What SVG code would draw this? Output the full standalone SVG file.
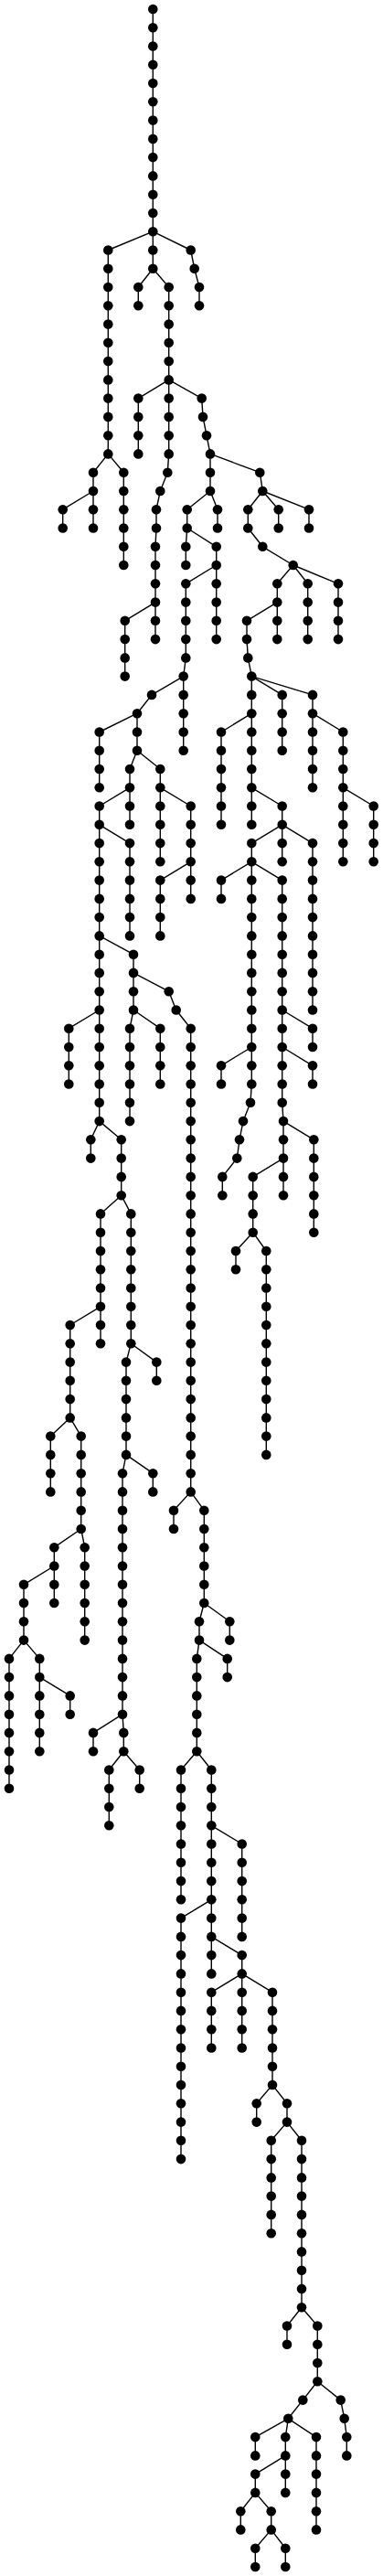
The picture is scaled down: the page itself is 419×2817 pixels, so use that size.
<svg xmlns="http://www.w3.org/2000/svg" width="419" height="2817" viewBox="0 0 419 2817">
<style>
.e{fill:none;stroke:#000;stroke-width:1.4;stroke-linejoin:round}
circle{fill:#000}
</style>
<rect width="419" height="2817" fill="#fff"/>
<g id="connectors" class="e">
<path d="M167.3,10V253.2"/>
<path d="M167.3,253.2L118.3,273.5V496.4"/>
<path d="M167.3,253.2V293.8"/>
<path d="M167.3,253.2L208.7,273.5L212.7,293.8L218,314V334.3"/>
<path d="M167.3,293.8L151.3,314V334.3"/>
<path d="M167.3,293.8L184.7,314V415.4"/>
<path d="M184.7,415.4L151.3,435.6V496.4"/>
<path d="M184.7,415.4V496.4L183.3,516.7L175.3,537L171,557.2V577.5L170,597.8V658.6"/>
<path d="M184.7,415.4L220.7,435.6L222,455.9L226,476.2L230,496.4"/>
<path d="M118.3,496.4L102,516.7V537"/>
<path d="M118.3,496.4L135.3,516.7V618"/>
<path d="M102,537L68.7,557.2V577.5"/>
<path d="M102,537V577.5"/>
<path d="M230,496.4V537"/>
<path d="M230,496.4L284.3,516.7L287.3,537"/>
<path d="M230,537L204.7,557.2V577.5"/>
<path d="M230,537L238,557.2V577.5"/>
<path d="M204.7,577.5L203.3,597.8V618"/>
<path d="M204.7,577.5L236.7,597.8V618"/>
<path d="M236.7,618L203.3,638.3V719.4L200.7,739.6"/>
<path d="M236.7,618V699.1"/>
<path d="M287.3,537L271.3,557.2V577.5L287.3,597.8L320.7,618"/>
<path d="M287.3,537L304.7,557.2V577.5"/>
<path d="M287.3,537L338,557.2V577.5"/>
<path d="M320.7,618L303.3,638.3V658.6"/>
<path d="M320.7,618L336.7,638.3V699.1"/>
<path d="M320.7,618L370,638.3V699.1"/>
<path d="M303.3,658.6L270,678.8V699.1L271.3,719.4L275.3,739.6"/>
<path d="M303.3,658.6V699.1"/>
<path d="M170,658.6L136.7,678.8V739.6"/>
<path d="M170,658.6V699.1"/>
<path d="M200.7,739.6L166,759.9L150,780.2"/>
<path d="M200.7,739.6V820.7"/>
<path d="M275.3,739.6V780.2"/>
<path d="M275.3,739.6L308.7,759.9V820.7"/>
<path d="M275.3,739.6L342,759.9V780.2"/>
<path d="M150,780.2L108.7,800.5V861.3"/>
<path d="M150,780.2V820.7"/>
<path d="M150,820.7L142,841V861.3"/>
<path d="M150,820.7L175.3,841V861.3"/>
<path d="M142,861.3L108.7,881.5V901.8"/>
<path d="M142,861.3V901.8"/>
<path d="M108.7,901.8V1023.4"/>
<path d="M108.7,901.8L142,922.1V1023.4"/>
<path d="M175.3,861.3V942.3"/>
<path d="M175.3,861.3L208.7,881.5V942.3"/>
<path d="M208.7,942.3L175.3,962.6V1023.4"/>
<path d="M208.7,942.3V982.9"/>
<path d="M275.3,780.2L242,800.5V901.8"/>
<path d="M275.3,780.2V861.3"/>
<path d="M275.3,861.3V901.8"/>
<path d="M275.3,861.3L308.7,881.5V901.8"/>
<path d="M308.7,901.8L275.3,922.1V942.3"/>
<path d="M308.7,901.8V942.3"/>
<path d="M308.7,901.8L342,922.1V1104.5"/>
<path d="M275.3,942.3L242,962.6V982.9"/>
<path d="M275.3,942.3V1145"/>
<path d="M275.3,942.3L308.7,962.6V1104.5"/>
<path d="M342,780.2V861.3"/>
<path d="M342,780.2L375.3,800.5V861.3"/>
<path d="M375.3,861.3V942.3"/>
<path d="M375.3,861.3L408.7,881.5V942.3"/>
<path d="M108.7,1023.4V1104.5"/>
<path d="M108.7,1023.4L146,1043.7V1063.9"/>
<path d="M146,1063.9V1104.5"/>
<path d="M146,1063.9L184.7,1084.2L192.7,1104.5L208.7,1124.7V1631.4"/>
<path d="M108.7,1104.5L75.3,1124.7V1185.5"/>
<path d="M108.7,1104.5V1226.1"/>
<path d="M146,1104.5L142,1124.7V1226.1"/>
<path d="M146,1104.5L175.3,1124.7V1185.5"/>
<path d="M308.7,1104.5V1145"/>
<path d="M308.7,1104.5L342,1124.7V1145"/>
<path d="M275.3,1145L242,1165.3V1185.5"/>
<path d="M275.3,1145V1185.5L274,1205.8L266,1226.1L262,1246.3L259.3,1266.6L243.3,1286.9V1307.2"/>
<path d="M308.7,1145V1205.8L310,1226.1"/>
<path d="M308.7,1145L342,1165.3V1185.5"/>
<path d="M310,1226.1V1266.6"/>
<path d="M310,1226.1L343.3,1246.3V1347.7"/>
<path d="M310,1266.6L276.7,1286.9V1347.7"/>
<path d="M310,1266.6V1307.2"/>
<path d="M276.7,1347.7L258,1368V1388.2"/>
<path d="M276.7,1347.7L291.3,1368V1590.9"/>
<path d="M108.7,1226.1L99.3,1246.3V1266.6"/>
<path d="M108.7,1226.1L132.7,1246.3V1307.2"/>
<path d="M132.7,1307.2L110,1327.4V1428.8"/>
<path d="M132.7,1307.2L143.3,1327.4V1469.3"/>
<path d="M110,1428.8L76.7,1449V1550.4"/>
<path d="M110,1428.8V1469.3"/>
<path d="M143.3,1469.3L138,1489.6V1590.9"/>
<path d="M143.3,1469.3L171.3,1489.6V1509.8"/>
<path d="M76.7,1550.4L55.3,1570.6V1631.4"/>
<path d="M76.7,1550.4L88.7,1570.6V1672"/>
<path d="M138,1590.9L134,1611.2V1874.7"/>
<path d="M138,1590.9L167.3,1611.2V1631.4"/>
<path d="M208.7,1631.4L190,1651.7V1672"/>
<path d="M208.7,1631.4L223.3,1651.7V1753"/>
<path d="M88.7,1672L59.3,1692.2V1712.5"/>
<path d="M88.7,1672L92.7,1692.2V1793.6"/>
<path d="M59.3,1712.5L26,1732.8V1793.6"/>
<path d="M59.3,1712.5V1753"/>
<path d="M26,1793.6L10,1813.9V1955.7"/>
<path d="M26,1793.6L43.3,1813.9V1834.1"/>
<path d="M43.3,1834.1V1915.2"/>
<path d="M43.3,1834.1L76.7,1854.4V1874.7"/>
<path d="M134,1874.7L102,1894.9V1915.2"/>
<path d="M134,1874.7L135.3,1894.9V1915.2"/>
<path d="M135.3,1915.2L119.3,1935.5V1996.3"/>
<path d="M135.3,1915.2L152.7,1935.5V1955.7"/>
<path d="M223.3,1753L218,1773.3V1793.6"/>
<path d="M223.3,1753L251.3,1773.3V1793.6"/>
<path d="M218,1793.6L215.3,1813.9V1915.2"/>
<path d="M218,1793.6L248.7,1813.9V1834.1"/>
<path d="M215.3,1915.2L198,1935.5V2077.3"/>
<path d="M215.3,1915.2L231.3,1935.5V1996.3"/>
<path d="M231.3,1996.3V2077.3"/>
<path d="M231.3,1996.3L264.7,2016.5V2117.9"/>
<path d="M231.3,2077.3L198,2097.6V2361.1"/>
<path d="M231.3,2077.3V2117.9"/>
<path d="M231.3,2117.9V2158.4"/>
<path d="M231.3,2117.9L264.7,2138.1V2158.4"/>
<path d="M264.7,2158.4L231.3,2178.7V2239.5"/>
<path d="M264.7,2158.4V2239.5"/>
<path d="M264.7,2158.4L298,2178.7V2280"/>
<path d="M298,2280L280.7,2300.3V2320.6"/>
<path d="M298,2280L314,2300.3V2320.6"/>
<path d="M314,2320.6L296.7,2340.8V2442.2"/>
<path d="M314,2320.6L330,2340.8V2523.2"/>
<path d="M330,2523.2L314,2543.5V2563.8"/>
<path d="M330,2523.2L347.3,2543.5V2604.3"/>
<path d="M347.3,2604.3L331.3,2624.6L315.3,2644.8"/>
<path d="M347.3,2604.3L372.7,2624.6L376.7,2644.8L379.3,2665.1V2685.4"/>
<path d="M315.3,2644.8L279.3,2665.1V2685.4"/>
<path d="M315.3,2644.8L312.3,2665.1V2685.4"/>
<path d="M315.3,2644.8L346,2665.1V2766.4"/>
<path d="M312.3,2685.4L279.3,2705.6V2725.9"/>
<path d="M312.3,2685.4V2725.9"/>
<path d="M279.3,2725.9L263.3,2746.2V2766.4"/>
<path d="M279.3,2725.9L296.7,2746.2V2766.4"/>
<path d="M296.7,2766.4L279.3,2786.7V2807"/>
<path d="M296.7,2766.4L312.3,2786.7V2807"/>
</g>
<g id="nodes">
<g id="n1"><circle cx="167.3" cy="10" r="5.3"/></g>
<g id="n2"><circle cx="167.3" cy="30.3" r="5.3"/></g>
<g id="n3"><circle cx="167.3" cy="50.5" r="5.3"/></g>
<g id="n4"><circle cx="167.3" cy="70.8" r="5.3"/></g>
<g id="n5"><circle cx="167.3" cy="91.1" r="5.3"/></g>
<g id="n6"><circle cx="167.3" cy="111.3" r="5.3"/></g>
<g id="n7"><circle cx="167.3" cy="131.6" r="5.3"/></g>
<g id="n8"><circle cx="167.3" cy="151.9" r="5.3"/></g>
<g id="n9"><circle cx="167.3" cy="172.1" r="5.3"/></g>
<g id="n10"><circle cx="167.3" cy="192.4" r="5.3"/></g>
<g id="n11"><circle cx="167.3" cy="212.7" r="5.3"/></g>
<g id="n12"><circle cx="167.3" cy="233" r="5.3"/></g>
<g id="n13"><circle cx="167.3" cy="253.2" r="5.3"/></g>
<g id="n14"><circle cx="118.3" cy="273.5" r="5.3"/></g>
<g id="n15"><circle cx="118.3" cy="293.8" r="5.3"/></g>
<g id="n16"><circle cx="118.3" cy="314" r="5.3"/></g>
<g id="n17"><circle cx="118.3" cy="334.3" r="5.3"/></g>
<g id="n18"><circle cx="118.3" cy="354.6" r="5.3"/></g>
<g id="n19"><circle cx="118.3" cy="374.8" r="5.3"/></g>
<g id="n20"><circle cx="118.3" cy="395.1" r="5.3"/></g>
<g id="n21"><circle cx="118.3" cy="415.4" r="5.3"/></g>
<g id="n22"><circle cx="118.3" cy="435.6" r="5.3"/></g>
<g id="n23"><circle cx="118.3" cy="455.9" r="5.3"/></g>
<g id="n24"><circle cx="118.3" cy="476.2" r="5.3"/></g>
<g id="n25"><circle cx="118.3" cy="496.4" r="5.3"/></g>
<g id="n26"><circle cx="167.3" cy="273.5" r="5.3"/></g>
<g id="n27"><circle cx="167.3" cy="293.8" r="5.3"/></g>
<g id="n28"><circle cx="208.7" cy="273.5" r="5.3"/></g>
<g id="n29"><circle cx="212.7" cy="293.8" r="5.3"/></g>
<g id="n30"><circle cx="218" cy="314" r="5.3"/></g>
<g id="n31"><circle cx="218" cy="334.3" r="5.3"/></g>
<g id="n32"><circle cx="151.3" cy="314" r="5.3"/></g>
<g id="n33"><circle cx="151.3" cy="334.3" r="5.3"/></g>
<g id="n34"><circle cx="184.7" cy="314" r="5.3"/></g>
<g id="n35"><circle cx="184.7" cy="334.3" r="5.3"/></g>
<g id="n36"><circle cx="184.7" cy="354.6" r="5.3"/></g>
<g id="n37"><circle cx="184.7" cy="374.8" r="5.3"/></g>
<g id="n38"><circle cx="184.7" cy="395.1" r="5.3"/></g>
<g id="n39"><circle cx="184.7" cy="415.4" r="5.3"/></g>
<g id="n40"><circle cx="151.3" cy="435.6" r="5.3"/></g>
<g id="n41"><circle cx="151.3" cy="455.9" r="5.3"/></g>
<g id="n42"><circle cx="151.3" cy="476.2" r="5.3"/></g>
<g id="n43"><circle cx="151.3" cy="496.4" r="5.3"/></g>
<g id="n44"><circle cx="184.7" cy="435.6" r="5.3"/></g>
<g id="n45"><circle cx="184.7" cy="455.9" r="5.3"/></g>
<g id="n46"><circle cx="184.7" cy="476.2" r="5.3"/></g>
<g id="n47"><circle cx="184.7" cy="496.4" r="5.3"/></g>
<g id="n48"><circle cx="183.3" cy="516.7" r="5.3"/></g>
<g id="n49"><circle cx="175.3" cy="537" r="5.3"/></g>
<g id="n50"><circle cx="171" cy="557.2" r="5.3"/></g>
<g id="n51"><circle cx="171" cy="577.5" r="5.3"/></g>
<g id="n52"><circle cx="170" cy="597.8" r="5.3"/></g>
<g id="n53"><circle cx="170" cy="618" r="5.3"/></g>
<g id="n54"><circle cx="170" cy="638.3" r="5.3"/></g>
<g id="n55"><circle cx="170" cy="658.6" r="5.3"/></g>
<g id="n56"><circle cx="220.7" cy="435.6" r="5.3"/></g>
<g id="n57"><circle cx="222" cy="455.9" r="5.3"/></g>
<g id="n58"><circle cx="226" cy="476.2" r="5.3"/></g>
<g id="n59"><circle cx="230" cy="496.4" r="5.3"/></g>
<g id="n60"><circle cx="102" cy="516.7" r="5.3"/></g>
<g id="n61"><circle cx="102" cy="537" r="5.3"/></g>
<g id="n62"><circle cx="135.3" cy="516.7" r="5.3"/></g>
<g id="n63"><circle cx="135.3" cy="537" r="5.3"/></g>
<g id="n64"><circle cx="135.3" cy="557.2" r="5.3"/></g>
<g id="n65"><circle cx="135.3" cy="577.5" r="5.3"/></g>
<g id="n66"><circle cx="135.3" cy="597.8" r="5.3"/></g>
<g id="n67"><circle cx="135.3" cy="618" r="5.3"/></g>
<g id="n68"><circle cx="68.7" cy="557.2" r="5.3"/></g>
<g id="n69"><circle cx="68.7" cy="577.5" r="5.3"/></g>
<g id="n70"><circle cx="102" cy="557.2" r="5.3"/></g>
<g id="n71"><circle cx="102" cy="577.5" r="5.3"/></g>
<g id="n72"><circle cx="230" cy="516.7" r="5.3"/></g>
<g id="n73"><circle cx="230" cy="537" r="5.3"/></g>
<g id="n74"><circle cx="284.3" cy="516.7" r="5.3"/></g>
<g id="n75"><circle cx="287.3" cy="537" r="5.3"/></g>
<g id="n76"><circle cx="204.7" cy="557.2" r="5.3"/></g>
<g id="n77"><circle cx="204.7" cy="577.5" r="5.3"/></g>
<g id="n78"><circle cx="238" cy="557.2" r="5.3"/></g>
<g id="n79"><circle cx="238" cy="577.5" r="5.3"/></g>
<g id="n80"><circle cx="203.3" cy="597.8" r="5.3"/></g>
<g id="n81"><circle cx="203.3" cy="618" r="5.3"/></g>
<g id="n82"><circle cx="236.7" cy="597.8" r="5.3"/></g>
<g id="n83"><circle cx="236.7" cy="618" r="5.3"/></g>
<g id="n84"><circle cx="203.3" cy="638.3" r="5.3"/></g>
<g id="n85"><circle cx="203.3" cy="658.6" r="5.3"/></g>
<g id="n86"><circle cx="203.3" cy="678.8" r="5.3"/></g>
<g id="n87"><circle cx="203.3" cy="699.1" r="5.3"/></g>
<g id="n88"><circle cx="203.3" cy="719.4" r="5.3"/></g>
<g id="n89"><circle cx="200.7" cy="739.6" r="5.3"/></g>
<g id="n90"><circle cx="236.7" cy="638.3" r="5.3"/></g>
<g id="n91"><circle cx="236.7" cy="658.6" r="5.3"/></g>
<g id="n92"><circle cx="236.7" cy="678.8" r="5.3"/></g>
<g id="n93"><circle cx="236.7" cy="699.1" r="5.3"/></g>
<g id="n94"><circle cx="271.3" cy="557.2" r="5.3"/></g>
<g id="n95"><circle cx="271.3" cy="577.5" r="5.3"/></g>
<g id="n96"><circle cx="287.3" cy="597.8" r="5.3"/></g>
<g id="n97"><circle cx="320.7" cy="618" r="5.3"/></g>
<g id="n98"><circle cx="304.7" cy="557.2" r="5.3"/></g>
<g id="n99"><circle cx="304.7" cy="577.5" r="5.3"/></g>
<g id="n100"><circle cx="338" cy="557.2" r="5.3"/></g>
<g id="n101"><circle cx="338" cy="577.5" r="5.3"/></g>
<g id="n102"><circle cx="303.3" cy="638.3" r="5.3"/></g>
<g id="n103"><circle cx="303.3" cy="658.6" r="5.3"/></g>
<g id="n104"><circle cx="336.7" cy="638.3" r="5.3"/></g>
<g id="n105"><circle cx="336.7" cy="658.6" r="5.3"/></g>
<g id="n106"><circle cx="336.7" cy="678.8" r="5.3"/></g>
<g id="n107"><circle cx="336.7" cy="699.1" r="5.3"/></g>
<g id="n108"><circle cx="370" cy="638.3" r="5.3"/></g>
<g id="n109"><circle cx="370" cy="658.6" r="5.3"/></g>
<g id="n110"><circle cx="370" cy="678.8" r="5.3"/></g>
<g id="n111"><circle cx="370" cy="699.1" r="5.3"/></g>
<g id="n112"><circle cx="270" cy="678.8" r="5.3"/></g>
<g id="n113"><circle cx="270" cy="699.1" r="5.3"/></g>
<g id="n114"><circle cx="271.3" cy="719.4" r="5.3"/></g>
<g id="n115"><circle cx="275.3" cy="739.6" r="5.3"/></g>
<g id="n116"><circle cx="303.3" cy="678.8" r="5.3"/></g>
<g id="n117"><circle cx="303.3" cy="699.1" r="5.3"/></g>
<g id="n118"><circle cx="136.7" cy="678.8" r="5.3"/></g>
<g id="n119"><circle cx="136.7" cy="699.1" r="5.3"/></g>
<g id="n120"><circle cx="136.7" cy="719.4" r="5.3"/></g>
<g id="n121"><circle cx="136.7" cy="739.6" r="5.3"/></g>
<g id="n122"><circle cx="170" cy="678.8" r="5.3"/></g>
<g id="n123"><circle cx="170" cy="699.1" r="5.3"/></g>
<g id="n124"><circle cx="166" cy="759.9" r="5.3"/></g>
<g id="n125"><circle cx="150" cy="780.2" r="5.3"/></g>
<g id="n126"><circle cx="200.7" cy="759.9" r="5.3"/></g>
<g id="n127"><circle cx="200.7" cy="780.2" r="5.3"/></g>
<g id="n128"><circle cx="200.7" cy="800.5" r="5.3"/></g>
<g id="n129"><circle cx="200.7" cy="820.7" r="5.3"/></g>
<g id="n130"><circle cx="275.3" cy="759.9" r="5.3"/></g>
<g id="n131"><circle cx="275.3" cy="780.2" r="5.3"/></g>
<g id="n132"><circle cx="308.7" cy="759.9" r="5.3"/></g>
<g id="n133"><circle cx="308.7" cy="780.2" r="5.3"/></g>
<g id="n134"><circle cx="308.7" cy="800.5" r="5.3"/></g>
<g id="n135"><circle cx="308.7" cy="820.7" r="5.3"/></g>
<g id="n136"><circle cx="342" cy="759.9" r="5.3"/></g>
<g id="n137"><circle cx="342" cy="780.2" r="5.3"/></g>
<g id="n138"><circle cx="108.7" cy="800.5" r="5.3"/></g>
<g id="n139"><circle cx="108.7" cy="820.7" r="5.3"/></g>
<g id="n140"><circle cx="108.7" cy="841" r="5.3"/></g>
<g id="n141"><circle cx="108.7" cy="861.3" r="5.3"/></g>
<g id="n142"><circle cx="150" cy="800.5" r="5.3"/></g>
<g id="n143"><circle cx="150" cy="820.7" r="5.3"/></g>
<g id="n144"><circle cx="142" cy="841" r="5.3"/></g>
<g id="n145"><circle cx="142" cy="861.3" r="5.3"/></g>
<g id="n146"><circle cx="175.3" cy="841" r="5.3"/></g>
<g id="n147"><circle cx="175.3" cy="861.3" r="5.3"/></g>
<g id="n148"><circle cx="108.7" cy="881.5" r="5.3"/></g>
<g id="n149"><circle cx="108.7" cy="901.8" r="5.3"/></g>
<g id="n150"><circle cx="142" cy="881.5" r="5.3"/></g>
<g id="n151"><circle cx="142" cy="901.8" r="5.3"/></g>
<g id="n152"><circle cx="108.7" cy="922.1" r="5.3"/></g>
<g id="n153"><circle cx="108.7" cy="942.3" r="5.3"/></g>
<g id="n154"><circle cx="108.7" cy="962.6" r="5.3"/></g>
<g id="n155"><circle cx="108.7" cy="982.9" r="5.3"/></g>
<g id="n156"><circle cx="108.7" cy="1003.1" r="5.3"/></g>
<g id="n157"><circle cx="108.7" cy="1023.4" r="5.3"/></g>
<g id="n158"><circle cx="142" cy="922.1" r="5.3"/></g>
<g id="n159"><circle cx="142" cy="942.3" r="5.3"/></g>
<g id="n160"><circle cx="142" cy="962.6" r="5.3"/></g>
<g id="n161"><circle cx="142" cy="982.9" r="5.3"/></g>
<g id="n162"><circle cx="142" cy="1003.1" r="5.3"/></g>
<g id="n163"><circle cx="142" cy="1023.4" r="5.3"/></g>
<g id="n164"><circle cx="175.3" cy="881.5" r="5.3"/></g>
<g id="n165"><circle cx="175.3" cy="901.8" r="5.3"/></g>
<g id="n166"><circle cx="175.3" cy="922.1" r="5.3"/></g>
<g id="n167"><circle cx="175.3" cy="942.3" r="5.3"/></g>
<g id="n168"><circle cx="208.7" cy="881.5" r="5.3"/></g>
<g id="n169"><circle cx="208.7" cy="901.8" r="5.3"/></g>
<g id="n170"><circle cx="208.7" cy="922.1" r="5.3"/></g>
<g id="n171"><circle cx="208.7" cy="942.3" r="5.3"/></g>
<g id="n172"><circle cx="175.3" cy="962.6" r="5.3"/></g>
<g id="n173"><circle cx="175.3" cy="982.9" r="5.3"/></g>
<g id="n174"><circle cx="175.3" cy="1003.1" r="5.3"/></g>
<g id="n175"><circle cx="175.3" cy="1023.4" r="5.3"/></g>
<g id="n176"><circle cx="208.7" cy="962.6" r="5.3"/></g>
<g id="n177"><circle cx="208.7" cy="982.9" r="5.3"/></g>
<g id="n178"><circle cx="242" cy="800.5" r="5.3"/></g>
<g id="n179"><circle cx="242" cy="820.7" r="5.3"/></g>
<g id="n180"><circle cx="242" cy="841" r="5.3"/></g>
<g id="n181"><circle cx="242" cy="861.3" r="5.3"/></g>
<g id="n182"><circle cx="242" cy="881.5" r="5.3"/></g>
<g id="n183"><circle cx="242" cy="901.8" r="5.3"/></g>
<g id="n184"><circle cx="275.3" cy="800.5" r="5.3"/></g>
<g id="n185"><circle cx="275.3" cy="820.7" r="5.3"/></g>
<g id="n186"><circle cx="275.3" cy="841" r="5.3"/></g>
<g id="n187"><circle cx="275.3" cy="861.3" r="5.3"/></g>
<g id="n188"><circle cx="275.3" cy="881.5" r="5.3"/></g>
<g id="n189"><circle cx="275.3" cy="901.8" r="5.3"/></g>
<g id="n190"><circle cx="308.7" cy="881.5" r="5.3"/></g>
<g id="n191"><circle cx="308.7" cy="901.8" r="5.3"/></g>
<g id="n192"><circle cx="275.3" cy="922.1" r="5.3"/></g>
<g id="n193"><circle cx="275.3" cy="942.3" r="5.3"/></g>
<g id="n194"><circle cx="308.7" cy="922.1" r="5.3"/></g>
<g id="n195"><circle cx="308.7" cy="942.3" r="5.3"/></g>
<g id="n196"><circle cx="342" cy="922.1" r="5.3"/></g>
<g id="n197"><circle cx="342" cy="942.3" r="5.3"/></g>
<g id="n198"><circle cx="342" cy="962.6" r="5.3"/></g>
<g id="n199"><circle cx="342" cy="982.9" r="5.3"/></g>
<g id="n200"><circle cx="342" cy="1003.1" r="5.3"/></g>
<g id="n201"><circle cx="342" cy="1023.4" r="5.3"/></g>
<g id="n202"><circle cx="342" cy="1043.7" r="5.3"/></g>
<g id="n203"><circle cx="342" cy="1063.9" r="5.3"/></g>
<g id="n204"><circle cx="342" cy="1084.2" r="5.3"/></g>
<g id="n205"><circle cx="342" cy="1104.5" r="5.3"/></g>
<g id="n206"><circle cx="242" cy="962.6" r="5.3"/></g>
<g id="n207"><circle cx="242" cy="982.9" r="5.3"/></g>
<g id="n208"><circle cx="275.3" cy="962.6" r="5.3"/></g>
<g id="n209"><circle cx="275.3" cy="982.9" r="5.3"/></g>
<g id="n210"><circle cx="275.3" cy="1003.1" r="5.3"/></g>
<g id="n211"><circle cx="275.3" cy="1023.4" r="5.3"/></g>
<g id="n212"><circle cx="275.3" cy="1043.7" r="5.3"/></g>
<g id="n213"><circle cx="275.3" cy="1063.9" r="5.3"/></g>
<g id="n214"><circle cx="275.3" cy="1084.2" r="5.3"/></g>
<g id="n215"><circle cx="275.3" cy="1104.5" r="5.3"/></g>
<g id="n216"><circle cx="275.3" cy="1124.7" r="5.3"/></g>
<g id="n217"><circle cx="275.3" cy="1145" r="5.3"/></g>
<g id="n218"><circle cx="308.7" cy="962.6" r="5.3"/></g>
<g id="n219"><circle cx="308.7" cy="982.9" r="5.3"/></g>
<g id="n220"><circle cx="308.7" cy="1003.1" r="5.3"/></g>
<g id="n221"><circle cx="308.7" cy="1023.4" r="5.3"/></g>
<g id="n222"><circle cx="308.7" cy="1043.7" r="5.3"/></g>
<g id="n223"><circle cx="308.7" cy="1063.9" r="5.3"/></g>
<g id="n224"><circle cx="308.7" cy="1084.2" r="5.3"/></g>
<g id="n225"><circle cx="308.7" cy="1104.5" r="5.3"/></g>
<g id="n226"><circle cx="342" cy="800.5" r="5.3"/></g>
<g id="n227"><circle cx="342" cy="820.7" r="5.3"/></g>
<g id="n228"><circle cx="342" cy="841" r="5.3"/></g>
<g id="n229"><circle cx="342" cy="861.3" r="5.3"/></g>
<g id="n230"><circle cx="375.3" cy="800.5" r="5.3"/></g>
<g id="n231"><circle cx="375.3" cy="820.7" r="5.3"/></g>
<g id="n232"><circle cx="375.3" cy="841" r="5.3"/></g>
<g id="n233"><circle cx="375.3" cy="861.3" r="5.3"/></g>
<g id="n234"><circle cx="375.3" cy="881.5" r="5.3"/></g>
<g id="n235"><circle cx="375.3" cy="901.8" r="5.3"/></g>
<g id="n236"><circle cx="375.3" cy="922.1" r="5.3"/></g>
<g id="n237"><circle cx="375.3" cy="942.3" r="5.3"/></g>
<g id="n238"><circle cx="408.7" cy="881.5" r="5.3"/></g>
<g id="n239"><circle cx="408.7" cy="901.8" r="5.3"/></g>
<g id="n240"><circle cx="408.7" cy="922.1" r="5.3"/></g>
<g id="n241"><circle cx="408.7" cy="942.3" r="5.3"/></g>
<g id="n242"><circle cx="108.7" cy="1043.7" r="5.3"/></g>
<g id="n243"><circle cx="108.7" cy="1063.9" r="5.3"/></g>
<g id="n244"><circle cx="108.7" cy="1084.2" r="5.3"/></g>
<g id="n245"><circle cx="108.7" cy="1104.5" r="5.3"/></g>
<g id="n246"><circle cx="146" cy="1043.7" r="5.3"/></g>
<g id="n247"><circle cx="146" cy="1063.9" r="5.3"/></g>
<g id="n248"><circle cx="146" cy="1084.2" r="5.3"/></g>
<g id="n249"><circle cx="146" cy="1104.5" r="5.3"/></g>
<g id="n250"><circle cx="184.7" cy="1084.2" r="5.3"/></g>
<g id="n251"><circle cx="192.7" cy="1104.5" r="5.3"/></g>
<g id="n252"><circle cx="208.7" cy="1124.7" r="5.3"/></g>
<g id="n253"><circle cx="208.7" cy="1145" r="5.3"/></g>
<g id="n254"><circle cx="208.7" cy="1165.3" r="5.3"/></g>
<g id="n255"><circle cx="208.7" cy="1185.5" r="5.3"/></g>
<g id="n256"><circle cx="208.7" cy="1205.8" r="5.3"/></g>
<g id="n257"><circle cx="208.7" cy="1226.1" r="5.3"/></g>
<g id="n258"><circle cx="208.7" cy="1246.3" r="5.3"/></g>
<g id="n259"><circle cx="208.7" cy="1266.6" r="5.3"/></g>
<g id="n260"><circle cx="208.7" cy="1286.9" r="5.3"/></g>
<g id="n261"><circle cx="208.7" cy="1307.2" r="5.3"/></g>
<g id="n262"><circle cx="208.7" cy="1327.4" r="5.3"/></g>
<g id="n263"><circle cx="208.7" cy="1347.7" r="5.3"/></g>
<g id="n264"><circle cx="208.7" cy="1368" r="5.3"/></g>
<g id="n265"><circle cx="208.7" cy="1388.2" r="5.3"/></g>
<g id="n266"><circle cx="208.7" cy="1408.5" r="5.3"/></g>
<g id="n267"><circle cx="208.7" cy="1428.8" r="5.3"/></g>
<g id="n268"><circle cx="208.7" cy="1449" r="5.3"/></g>
<g id="n269"><circle cx="208.7" cy="1469.3" r="5.3"/></g>
<g id="n270"><circle cx="208.7" cy="1489.6" r="5.3"/></g>
<g id="n271"><circle cx="208.7" cy="1509.8" r="5.3"/></g>
<g id="n272"><circle cx="208.7" cy="1530.1" r="5.3"/></g>
<g id="n273"><circle cx="208.7" cy="1550.4" r="5.3"/></g>
<g id="n274"><circle cx="208.7" cy="1570.6" r="5.3"/></g>
<g id="n275"><circle cx="208.7" cy="1590.9" r="5.3"/></g>
<g id="n276"><circle cx="208.7" cy="1611.2" r="5.3"/></g>
<g id="n277"><circle cx="208.7" cy="1631.4" r="5.3"/></g>
<g id="n278"><circle cx="75.3" cy="1124.7" r="5.3"/></g>
<g id="n279"><circle cx="75.3" cy="1145" r="5.3"/></g>
<g id="n280"><circle cx="75.3" cy="1165.3" r="5.3"/></g>
<g id="n281"><circle cx="75.3" cy="1185.5" r="5.3"/></g>
<g id="n282"><circle cx="108.7" cy="1124.7" r="5.3"/></g>
<g id="n283"><circle cx="108.7" cy="1145" r="5.3"/></g>
<g id="n284"><circle cx="108.7" cy="1165.3" r="5.3"/></g>
<g id="n285"><circle cx="108.7" cy="1185.5" r="5.3"/></g>
<g id="n286"><circle cx="108.7" cy="1205.8" r="5.3"/></g>
<g id="n287"><circle cx="108.7" cy="1226.1" r="5.3"/></g>
<g id="n288"><circle cx="142" cy="1124.7" r="5.3"/></g>
<g id="n289"><circle cx="142" cy="1145" r="5.3"/></g>
<g id="n290"><circle cx="142" cy="1165.3" r="5.3"/></g>
<g id="n291"><circle cx="142" cy="1185.5" r="5.3"/></g>
<g id="n292"><circle cx="142" cy="1205.8" r="5.3"/></g>
<g id="n293"><circle cx="142" cy="1226.1" r="5.3"/></g>
<g id="n294"><circle cx="175.3" cy="1124.7" r="5.3"/></g>
<g id="n295"><circle cx="175.3" cy="1145" r="5.3"/></g>
<g id="n296"><circle cx="175.3" cy="1165.3" r="5.3"/></g>
<g id="n297"><circle cx="175.3" cy="1185.5" r="5.3"/></g>
<g id="n298"><circle cx="308.7" cy="1124.7" r="5.3"/></g>
<g id="n299"><circle cx="308.7" cy="1145" r="5.3"/></g>
<g id="n300"><circle cx="342" cy="1124.7" r="5.3"/></g>
<g id="n301"><circle cx="342" cy="1145" r="5.3"/></g>
<g id="n302"><circle cx="242" cy="1165.3" r="5.3"/></g>
<g id="n303"><circle cx="242" cy="1185.5" r="5.3"/></g>
<g id="n304"><circle cx="275.3" cy="1165.3" r="5.3"/></g>
<g id="n305"><circle cx="275.3" cy="1185.5" r="5.3"/></g>
<g id="n306"><circle cx="274" cy="1205.8" r="5.3"/></g>
<g id="n307"><circle cx="266" cy="1226.1" r="5.3"/></g>
<g id="n308"><circle cx="262" cy="1246.3" r="5.3"/></g>
<g id="n309"><circle cx="259.3" cy="1266.6" r="5.3"/></g>
<g id="n310"><circle cx="243.3" cy="1286.9" r="5.3"/></g>
<g id="n311"><circle cx="243.3" cy="1307.2" r="5.3"/></g>
<g id="n312"><circle cx="308.7" cy="1165.3" r="5.3"/></g>
<g id="n313"><circle cx="308.7" cy="1185.5" r="5.3"/></g>
<g id="n314"><circle cx="308.7" cy="1205.8" r="5.3"/></g>
<g id="n315"><circle cx="310" cy="1226.1" r="5.3"/></g>
<g id="n316"><circle cx="342" cy="1165.3" r="5.3"/></g>
<g id="n317"><circle cx="342" cy="1185.5" r="5.3"/></g>
<g id="n318"><circle cx="310" cy="1246.3" r="5.3"/></g>
<g id="n319"><circle cx="310" cy="1266.6" r="5.3"/></g>
<g id="n320"><circle cx="343.3" cy="1246.3" r="5.3"/></g>
<g id="n321"><circle cx="343.3" cy="1266.6" r="5.3"/></g>
<g id="n322"><circle cx="343.3" cy="1286.9" r="5.3"/></g>
<g id="n323"><circle cx="343.3" cy="1307.2" r="5.3"/></g>
<g id="n324"><circle cx="343.3" cy="1327.4" r="5.3"/></g>
<g id="n325"><circle cx="343.3" cy="1347.7" r="5.3"/></g>
<g id="n326"><circle cx="276.7" cy="1286.9" r="5.3"/></g>
<g id="n327"><circle cx="276.7" cy="1307.2" r="5.3"/></g>
<g id="n328"><circle cx="276.7" cy="1327.4" r="5.3"/></g>
<g id="n329"><circle cx="276.7" cy="1347.7" r="5.3"/></g>
<g id="n330"><circle cx="310" cy="1286.9" r="5.3"/></g>
<g id="n331"><circle cx="310" cy="1307.2" r="5.3"/></g>
<g id="n332"><circle cx="258" cy="1368" r="5.3"/></g>
<g id="n333"><circle cx="258" cy="1388.2" r="5.3"/></g>
<g id="n334"><circle cx="291.3" cy="1368" r="5.3"/></g>
<g id="n335"><circle cx="291.3" cy="1388.2" r="5.3"/></g>
<g id="n336"><circle cx="291.3" cy="1408.5" r="5.3"/></g>
<g id="n337"><circle cx="291.3" cy="1428.8" r="5.3"/></g>
<g id="n338"><circle cx="291.3" cy="1449" r="5.3"/></g>
<g id="n339"><circle cx="291.3" cy="1469.3" r="5.3"/></g>
<g id="n340"><circle cx="291.3" cy="1489.6" r="5.3"/></g>
<g id="n341"><circle cx="291.3" cy="1509.8" r="5.3"/></g>
<g id="n342"><circle cx="291.3" cy="1530.1" r="5.3"/></g>
<g id="n343"><circle cx="291.3" cy="1550.4" r="5.3"/></g>
<g id="n344"><circle cx="291.3" cy="1570.6" r="5.3"/></g>
<g id="n345"><circle cx="291.3" cy="1590.9" r="5.3"/></g>
<g id="n346"><circle cx="99.3" cy="1246.3" r="5.3"/></g>
<g id="n347"><circle cx="99.3" cy="1266.6" r="5.3"/></g>
<g id="n348"><circle cx="132.7" cy="1246.3" r="5.3"/></g>
<g id="n349"><circle cx="132.7" cy="1266.6" r="5.3"/></g>
<g id="n350"><circle cx="132.7" cy="1286.9" r="5.3"/></g>
<g id="n351"><circle cx="132.7" cy="1307.2" r="5.3"/></g>
<g id="n352"><circle cx="110" cy="1327.4" r="5.3"/></g>
<g id="n353"><circle cx="110" cy="1347.7" r="5.3"/></g>
<g id="n354"><circle cx="110" cy="1368" r="5.3"/></g>
<g id="n355"><circle cx="110" cy="1388.2" r="5.3"/></g>
<g id="n356"><circle cx="110" cy="1408.5" r="5.3"/></g>
<g id="n357"><circle cx="110" cy="1428.8" r="5.3"/></g>
<g id="n358"><circle cx="143.3" cy="1327.4" r="5.3"/></g>
<g id="n359"><circle cx="143.3" cy="1347.7" r="5.3"/></g>
<g id="n360"><circle cx="143.3" cy="1368" r="5.3"/></g>
<g id="n361"><circle cx="143.3" cy="1388.2" r="5.3"/></g>
<g id="n362"><circle cx="143.3" cy="1408.5" r="5.3"/></g>
<g id="n363"><circle cx="143.3" cy="1428.8" r="5.3"/></g>
<g id="n364"><circle cx="143.3" cy="1449" r="5.3"/></g>
<g id="n365"><circle cx="143.3" cy="1469.3" r="5.3"/></g>
<g id="n366"><circle cx="76.7" cy="1449" r="5.3"/></g>
<g id="n367"><circle cx="76.7" cy="1469.3" r="5.3"/></g>
<g id="n368"><circle cx="76.7" cy="1489.6" r="5.3"/></g>
<g id="n369"><circle cx="76.7" cy="1509.8" r="5.3"/></g>
<g id="n370"><circle cx="76.7" cy="1530.1" r="5.3"/></g>
<g id="n371"><circle cx="76.7" cy="1550.4" r="5.3"/></g>
<g id="n372"><circle cx="110" cy="1449" r="5.3"/></g>
<g id="n373"><circle cx="110" cy="1469.3" r="5.3"/></g>
<g id="n374"><circle cx="138" cy="1489.6" r="5.3"/></g>
<g id="n375"><circle cx="138" cy="1509.8" r="5.3"/></g>
<g id="n376"><circle cx="138" cy="1530.1" r="5.3"/></g>
<g id="n377"><circle cx="138" cy="1550.4" r="5.3"/></g>
<g id="n378"><circle cx="138" cy="1570.6" r="5.3"/></g>
<g id="n379"><circle cx="138" cy="1590.9" r="5.3"/></g>
<g id="n380"><circle cx="171.3" cy="1489.6" r="5.3"/></g>
<g id="n381"><circle cx="171.3" cy="1509.8" r="5.3"/></g>
<g id="n382"><circle cx="55.3" cy="1570.6" r="5.3"/></g>
<g id="n383"><circle cx="55.3" cy="1590.9" r="5.3"/></g>
<g id="n384"><circle cx="55.3" cy="1611.2" r="5.3"/></g>
<g id="n385"><circle cx="55.3" cy="1631.4" r="5.3"/></g>
<g id="n386"><circle cx="88.7" cy="1570.6" r="5.3"/></g>
<g id="n387"><circle cx="88.7" cy="1590.9" r="5.3"/></g>
<g id="n388"><circle cx="88.7" cy="1611.2" r="5.3"/></g>
<g id="n389"><circle cx="88.7" cy="1631.4" r="5.3"/></g>
<g id="n390"><circle cx="88.7" cy="1651.7" r="5.3"/></g>
<g id="n391"><circle cx="88.7" cy="1672" r="5.3"/></g>
<g id="n392"><circle cx="134" cy="1611.2" r="5.3"/></g>
<g id="n393"><circle cx="134" cy="1631.4" r="5.3"/></g>
<g id="n394"><circle cx="134" cy="1651.7" r="5.3"/></g>
<g id="n395"><circle cx="134" cy="1672" r="5.3"/></g>
<g id="n396"><circle cx="134" cy="1692.2" r="5.3"/></g>
<g id="n397"><circle cx="134" cy="1712.5" r="5.3"/></g>
<g id="n398"><circle cx="134" cy="1732.8" r="5.3"/></g>
<g id="n399"><circle cx="134" cy="1753" r="5.3"/></g>
<g id="n400"><circle cx="134" cy="1773.3" r="5.3"/></g>
<g id="n401"><circle cx="134" cy="1793.6" r="5.3"/></g>
<g id="n402"><circle cx="134" cy="1813.9" r="5.3"/></g>
<g id="n403"><circle cx="134" cy="1834.1" r="5.3"/></g>
<g id="n404"><circle cx="134" cy="1854.4" r="5.3"/></g>
<g id="n405"><circle cx="134" cy="1874.7" r="5.3"/></g>
<g id="n406"><circle cx="167.3" cy="1611.2" r="5.3"/></g>
<g id="n407"><circle cx="167.3" cy="1631.4" r="5.3"/></g>
<g id="n408"><circle cx="190" cy="1651.7" r="5.3"/></g>
<g id="n409"><circle cx="190" cy="1672" r="5.3"/></g>
<g id="n410"><circle cx="223.3" cy="1651.7" r="5.3"/></g>
<g id="n411"><circle cx="223.3" cy="1672" r="5.3"/></g>
<g id="n412"><circle cx="223.3" cy="1692.2" r="5.3"/></g>
<g id="n413"><circle cx="223.3" cy="1712.5" r="5.3"/></g>
<g id="n414"><circle cx="223.3" cy="1732.8" r="5.3"/></g>
<g id="n415"><circle cx="223.3" cy="1753" r="5.3"/></g>
<g id="n416"><circle cx="59.3" cy="1692.2" r="5.3"/></g>
<g id="n417"><circle cx="59.3" cy="1712.5" r="5.3"/></g>
<g id="n418"><circle cx="92.7" cy="1692.2" r="5.3"/></g>
<g id="n419"><circle cx="92.7" cy="1712.5" r="5.3"/></g>
<g id="n420"><circle cx="92.7" cy="1732.8" r="5.3"/></g>
<g id="n421"><circle cx="92.7" cy="1753" r="5.3"/></g>
<g id="n422"><circle cx="92.7" cy="1773.3" r="5.3"/></g>
<g id="n423"><circle cx="92.7" cy="1793.6" r="5.3"/></g>
<g id="n424"><circle cx="26" cy="1732.8" r="5.3"/></g>
<g id="n425"><circle cx="26" cy="1753" r="5.3"/></g>
<g id="n426"><circle cx="26" cy="1773.3" r="5.3"/></g>
<g id="n427"><circle cx="26" cy="1793.6" r="5.3"/></g>
<g id="n428"><circle cx="59.3" cy="1732.8" r="5.3"/></g>
<g id="n429"><circle cx="59.3" cy="1753" r="5.3"/></g>
<g id="n430"><circle cx="10" cy="1813.9" r="5.3"/></g>
<g id="n431"><circle cx="10" cy="1834.1" r="5.3"/></g>
<g id="n432"><circle cx="10" cy="1854.4" r="5.3"/></g>
<g id="n433"><circle cx="10" cy="1874.7" r="5.3"/></g>
<g id="n434"><circle cx="10" cy="1894.9" r="5.3"/></g>
<g id="n435"><circle cx="10" cy="1915.2" r="5.3"/></g>
<g id="n436"><circle cx="10" cy="1935.5" r="5.3"/></g>
<g id="n437"><circle cx="10" cy="1955.7" r="5.3"/></g>
<g id="n438"><circle cx="43.3" cy="1813.9" r="5.3"/></g>
<g id="n439"><circle cx="43.3" cy="1834.1" r="5.3"/></g>
<g id="n440"><circle cx="43.3" cy="1854.4" r="5.3"/></g>
<g id="n441"><circle cx="43.3" cy="1874.7" r="5.3"/></g>
<g id="n442"><circle cx="43.3" cy="1894.9" r="5.3"/></g>
<g id="n443"><circle cx="43.3" cy="1915.2" r="5.3"/></g>
<g id="n444"><circle cx="76.7" cy="1854.4" r="5.3"/></g>
<g id="n445"><circle cx="76.7" cy="1874.7" r="5.3"/></g>
<g id="n446"><circle cx="102" cy="1894.9" r="5.3"/></g>
<g id="n447"><circle cx="102" cy="1915.2" r="5.3"/></g>
<g id="n448"><circle cx="135.3" cy="1894.9" r="5.3"/></g>
<g id="n449"><circle cx="135.3" cy="1915.2" r="5.3"/></g>
<g id="n450"><circle cx="119.3" cy="1935.5" r="5.3"/></g>
<g id="n451"><circle cx="119.3" cy="1955.7" r="5.3"/></g>
<g id="n452"><circle cx="119.3" cy="1976" r="5.3"/></g>
<g id="n453"><circle cx="119.3" cy="1996.3" r="5.3"/></g>
<g id="n454"><circle cx="152.7" cy="1935.5" r="5.3"/></g>
<g id="n455"><circle cx="152.7" cy="1955.7" r="5.3"/></g>
<g id="n456"><circle cx="218" cy="1773.3" r="5.3"/></g>
<g id="n457"><circle cx="218" cy="1793.6" r="5.3"/></g>
<g id="n458"><circle cx="251.3" cy="1773.3" r="5.3"/></g>
<g id="n459"><circle cx="251.3" cy="1793.6" r="5.3"/></g>
<g id="n460"><circle cx="215.3" cy="1813.9" r="5.3"/></g>
<g id="n461"><circle cx="215.3" cy="1834.1" r="5.3"/></g>
<g id="n462"><circle cx="215.3" cy="1854.4" r="5.3"/></g>
<g id="n463"><circle cx="215.3" cy="1874.7" r="5.3"/></g>
<g id="n464"><circle cx="215.3" cy="1894.9" r="5.3"/></g>
<g id="n465"><circle cx="215.3" cy="1915.2" r="5.3"/></g>
<g id="n466"><circle cx="248.7" cy="1813.9" r="5.3"/></g>
<g id="n467"><circle cx="248.7" cy="1834.1" r="5.3"/></g>
<g id="n468"><circle cx="198" cy="1935.5" r="5.3"/></g>
<g id="n469"><circle cx="198" cy="1955.7" r="5.3"/></g>
<g id="n470"><circle cx="198" cy="1976" r="5.3"/></g>
<g id="n471"><circle cx="198" cy="1996.3" r="5.3"/></g>
<g id="n472"><circle cx="198" cy="2016.5" r="5.3"/></g>
<g id="n473"><circle cx="198" cy="2036.8" r="5.3"/></g>
<g id="n474"><circle cx="198" cy="2057.1" r="5.3"/></g>
<g id="n475"><circle cx="198" cy="2077.3" r="5.3"/></g>
<g id="n476"><circle cx="231.3" cy="1935.5" r="5.3"/></g>
<g id="n477"><circle cx="231.3" cy="1955.7" r="5.3"/></g>
<g id="n478"><circle cx="231.3" cy="1976" r="5.3"/></g>
<g id="n479"><circle cx="231.3" cy="1996.3" r="5.3"/></g>
<g id="n480"><circle cx="231.3" cy="2016.5" r="5.3"/></g>
<g id="n481"><circle cx="231.3" cy="2036.8" r="5.3"/></g>
<g id="n482"><circle cx="231.3" cy="2057.1" r="5.3"/></g>
<g id="n483"><circle cx="231.3" cy="2077.3" r="5.3"/></g>
<g id="n484"><circle cx="264.7" cy="2016.5" r="5.3"/></g>
<g id="n485"><circle cx="264.7" cy="2036.8" r="5.3"/></g>
<g id="n486"><circle cx="264.7" cy="2057.1" r="5.3"/></g>
<g id="n487"><circle cx="264.7" cy="2077.3" r="5.3"/></g>
<g id="n488"><circle cx="264.7" cy="2097.6" r="5.3"/></g>
<g id="n489"><circle cx="264.7" cy="2117.9" r="5.3"/></g>
<g id="n490"><circle cx="198" cy="2097.6" r="5.3"/></g>
<g id="n491"><circle cx="198" cy="2117.9" r="5.3"/></g>
<g id="n492"><circle cx="198" cy="2138.1" r="5.3"/></g>
<g id="n493"><circle cx="198" cy="2158.4" r="5.3"/></g>
<g id="n494"><circle cx="198" cy="2178.7" r="5.3"/></g>
<g id="n495"><circle cx="198" cy="2198.9" r="5.3"/></g>
<g id="n496"><circle cx="198" cy="2219.2" r="5.3"/></g>
<g id="n497"><circle cx="198" cy="2239.5" r="5.3"/></g>
<g id="n498"><circle cx="198" cy="2259.7" r="5.3"/></g>
<g id="n499"><circle cx="198" cy="2280" r="5.3"/></g>
<g id="n500"><circle cx="198" cy="2300.3" r="5.3"/></g>
<g id="n501"><circle cx="198" cy="2320.6" r="5.3"/></g>
<g id="n502"><circle cx="198" cy="2340.8" r="5.3"/></g>
<g id="n503"><circle cx="198" cy="2361.1" r="5.3"/></g>
<g id="n504"><circle cx="231.3" cy="2097.6" r="5.3"/></g>
<g id="n505"><circle cx="231.3" cy="2117.9" r="5.3"/></g>
<g id="n506"><circle cx="231.3" cy="2138.1" r="5.3"/></g>
<g id="n507"><circle cx="231.3" cy="2158.4" r="5.3"/></g>
<g id="n508"><circle cx="264.7" cy="2138.1" r="5.3"/></g>
<g id="n509"><circle cx="264.7" cy="2158.4" r="5.3"/></g>
<g id="n510"><circle cx="231.3" cy="2178.7" r="5.3"/></g>
<g id="n511"><circle cx="231.3" cy="2198.9" r="5.3"/></g>
<g id="n512"><circle cx="231.3" cy="2219.2" r="5.3"/></g>
<g id="n513"><circle cx="231.3" cy="2239.5" r="5.3"/></g>
<g id="n514"><circle cx="264.7" cy="2178.7" r="5.3"/></g>
<g id="n515"><circle cx="264.7" cy="2198.9" r="5.3"/></g>
<g id="n516"><circle cx="264.7" cy="2219.2" r="5.3"/></g>
<g id="n517"><circle cx="264.7" cy="2239.5" r="5.3"/></g>
<g id="n518"><circle cx="298" cy="2178.7" r="5.3"/></g>
<g id="n519"><circle cx="298" cy="2198.9" r="5.3"/></g>
<g id="n520"><circle cx="298" cy="2219.2" r="5.3"/></g>
<g id="n521"><circle cx="298" cy="2239.5" r="5.3"/></g>
<g id="n522"><circle cx="298" cy="2259.7" r="5.3"/></g>
<g id="n523"><circle cx="298" cy="2280" r="5.3"/></g>
<g id="n524"><circle cx="280.7" cy="2300.3" r="5.3"/></g>
<g id="n525"><circle cx="280.7" cy="2320.6" r="5.3"/></g>
<g id="n526"><circle cx="314" cy="2300.3" r="5.3"/></g>
<g id="n527"><circle cx="314" cy="2320.6" r="5.3"/></g>
<g id="n528"><circle cx="296.7" cy="2340.8" r="5.3"/></g>
<g id="n529"><circle cx="296.7" cy="2361.1" r="5.3"/></g>
<g id="n530"><circle cx="296.7" cy="2381.4" r="5.3"/></g>
<g id="n531"><circle cx="296.7" cy="2401.6" r="5.3"/></g>
<g id="n532"><circle cx="296.7" cy="2421.9" r="5.3"/></g>
<g id="n533"><circle cx="296.7" cy="2442.2" r="5.3"/></g>
<g id="n534"><circle cx="330" cy="2340.8" r="5.3"/></g>
<g id="n535"><circle cx="330" cy="2361.1" r="5.3"/></g>
<g id="n536"><circle cx="330" cy="2381.4" r="5.3"/></g>
<g id="n537"><circle cx="330" cy="2401.6" r="5.3"/></g>
<g id="n538"><circle cx="330" cy="2421.9" r="5.3"/></g>
<g id="n539"><circle cx="330" cy="2442.2" r="5.3"/></g>
<g id="n540"><circle cx="330" cy="2462.4" r="5.3"/></g>
<g id="n541"><circle cx="330" cy="2482.7" r="5.3"/></g>
<g id="n542"><circle cx="330" cy="2503" r="5.3"/></g>
<g id="n543"><circle cx="330" cy="2523.2" r="5.3"/></g>
<g id="n544"><circle cx="314" cy="2543.5" r="5.3"/></g>
<g id="n545"><circle cx="314" cy="2563.8" r="5.3"/></g>
<g id="n546"><circle cx="347.3" cy="2543.5" r="5.3"/></g>
<g id="n547"><circle cx="347.3" cy="2563.8" r="5.3"/></g>
<g id="n548"><circle cx="347.3" cy="2584" r="5.3"/></g>
<g id="n549"><circle cx="347.3" cy="2604.3" r="5.3"/></g>
<g id="n550"><circle cx="331.3" cy="2624.6" r="5.3"/></g>
<g id="n551"><circle cx="315.3" cy="2644.8" r="5.3"/></g>
<g id="n552"><circle cx="372.7" cy="2624.6" r="5.3"/></g>
<g id="n553"><circle cx="376.7" cy="2644.8" r="5.3"/></g>
<g id="n554"><circle cx="379.3" cy="2665.1" r="5.3"/></g>
<g id="n555"><circle cx="379.3" cy="2685.4" r="5.3"/></g>
<g id="n556"><circle cx="279.3" cy="2665.1" r="5.3"/></g>
<g id="n557"><circle cx="279.3" cy="2685.4" r="5.3"/></g>
<g id="n558"><circle cx="312.3" cy="2665.1" r="5.3"/></g>
<g id="n559"><circle cx="312.3" cy="2685.4" r="5.3"/></g>
<g id="n560"><circle cx="346" cy="2665.1" r="5.3"/></g>
<g id="n561"><circle cx="346" cy="2685.4" r="5.3"/></g>
<g id="n562"><circle cx="346" cy="2705.6" r="5.3"/></g>
<g id="n563"><circle cx="346" cy="2725.9" r="5.3"/></g>
<g id="n564"><circle cx="346" cy="2746.2" r="5.3"/></g>
<g id="n565"><circle cx="346" cy="2766.4" r="5.3"/></g>
<g id="n566"><circle cx="279.3" cy="2705.6" r="5.3"/></g>
<g id="n567"><circle cx="279.3" cy="2725.9" r="5.3"/></g>
<g id="n568"><circle cx="312.3" cy="2705.6" r="5.3"/></g>
<g id="n569"><circle cx="312.3" cy="2725.9" r="5.3"/></g>
<g id="n570"><circle cx="263.3" cy="2746.2" r="5.3"/></g>
<g id="n571"><circle cx="263.3" cy="2766.4" r="5.3"/></g>
<g id="n572"><circle cx="296.7" cy="2746.2" r="5.3"/></g>
<g id="n573"><circle cx="296.7" cy="2766.4" r="5.3"/></g>
<g id="n574"><circle cx="279.3" cy="2786.7" r="5.3"/></g>
<g id="n575"><circle cx="279.3" cy="2807" r="5.3"/></g>
<g id="n576"><circle cx="312.3" cy="2786.7" r="5.3"/></g>
<g id="n577"><circle cx="312.3" cy="2807" r="5.3"/></g>
</g>
</svg>
